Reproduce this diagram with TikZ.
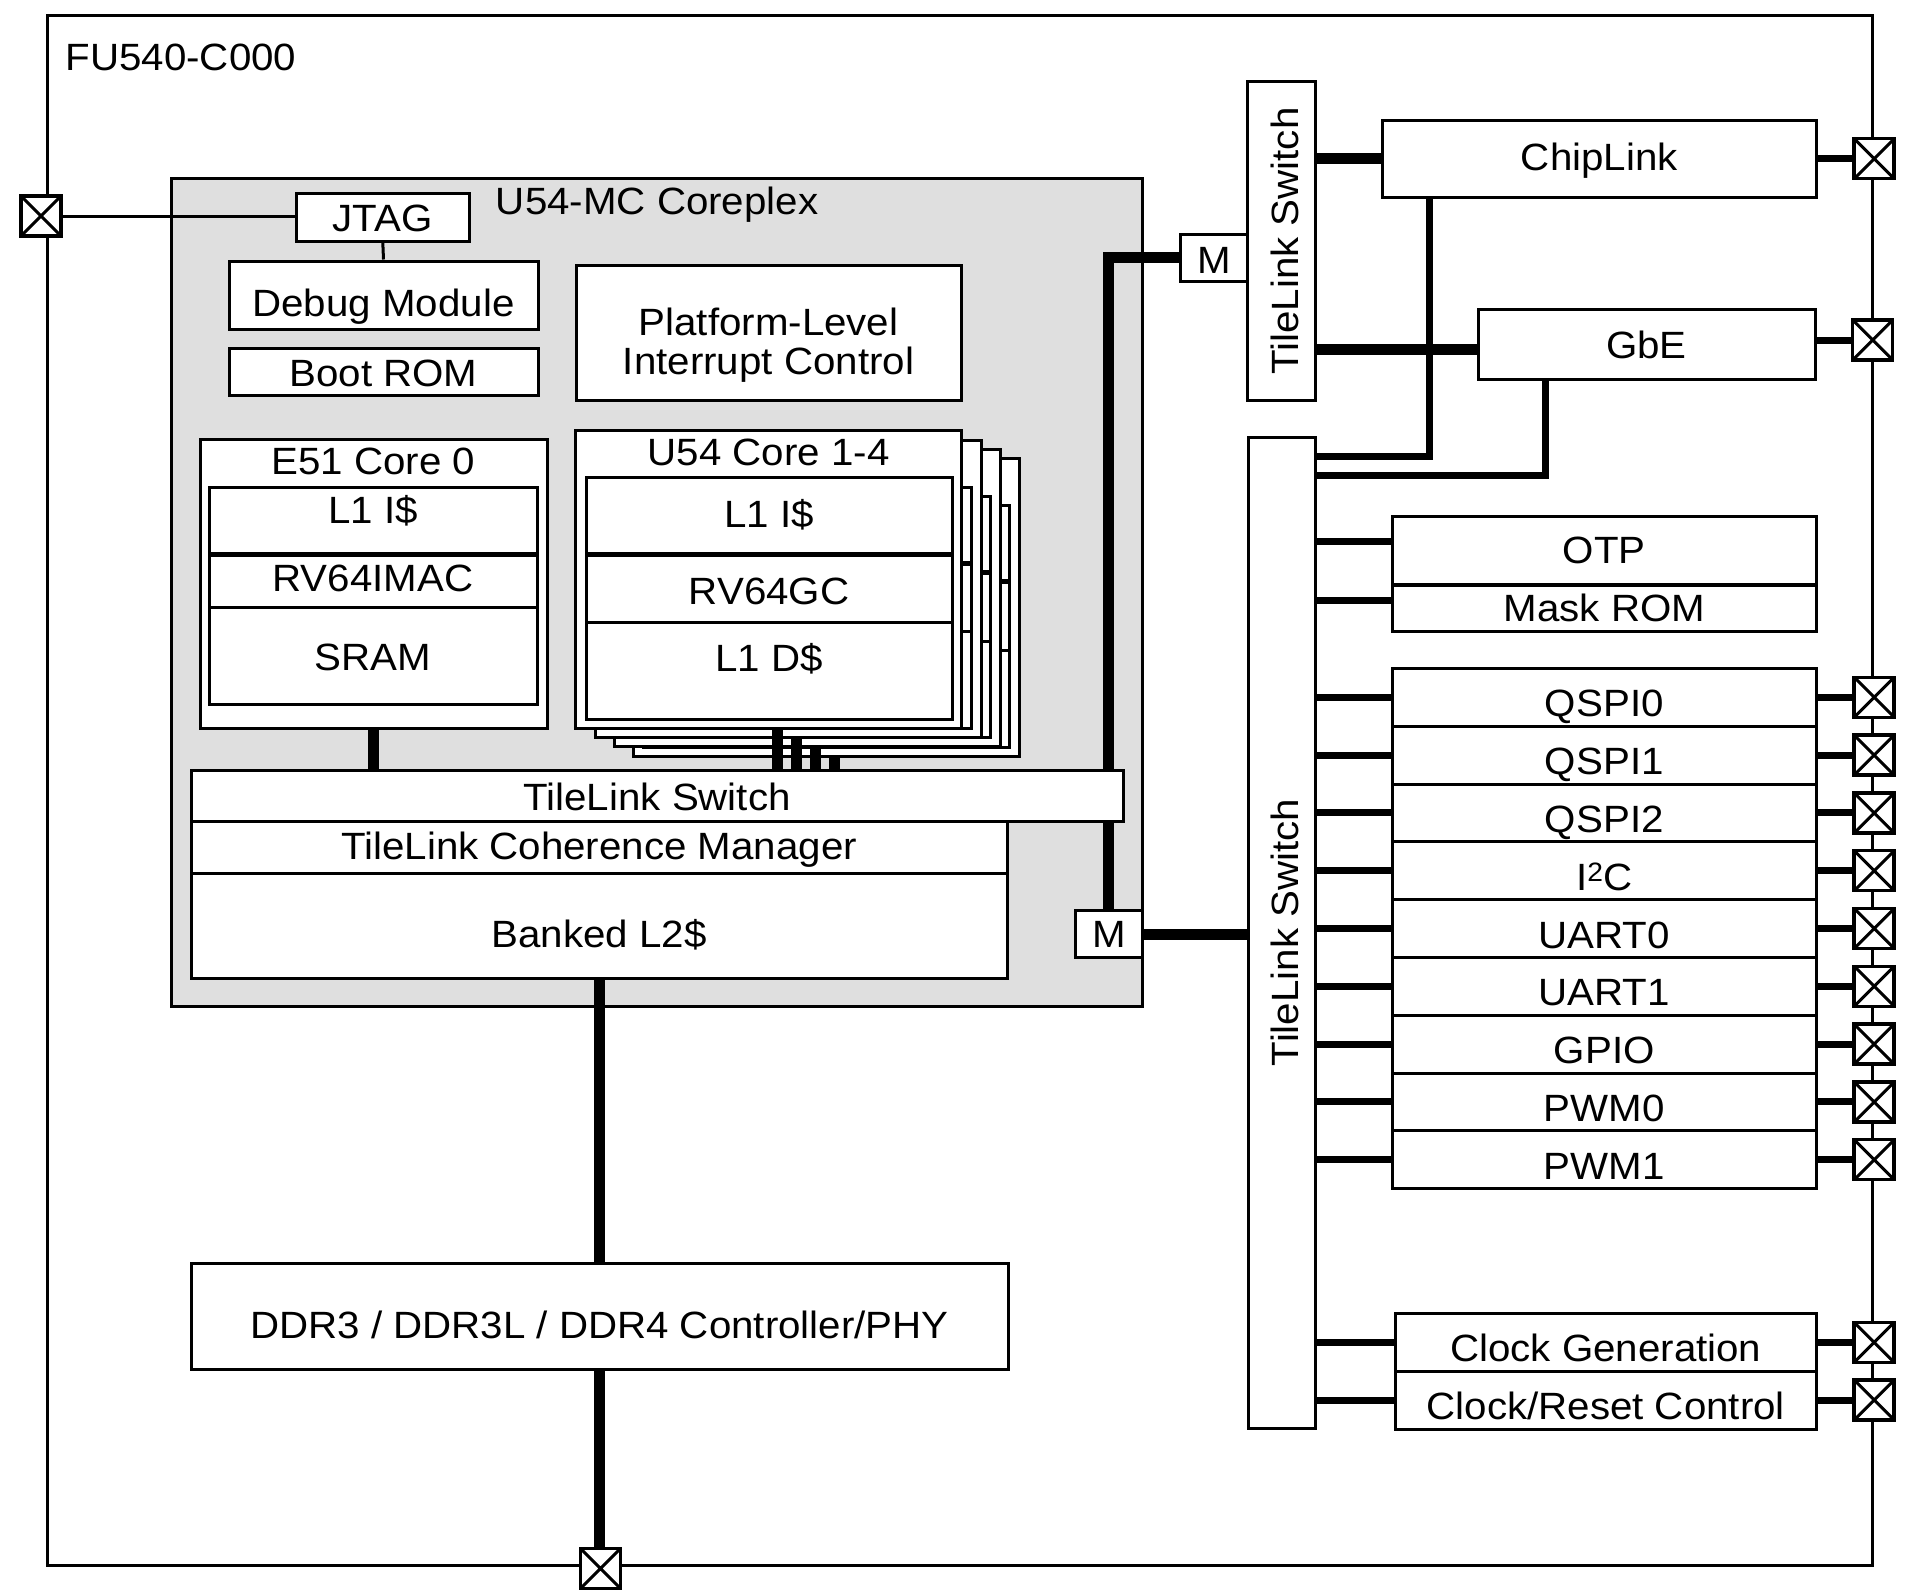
\documentclass[tikz,border=0pt]{standalone}
\usepackage{fontspec}
\setmainfont{Liberation Sans}[FakeStretch=1.06]

\tikzset{
  blk/.style={draw, fill=white, line width=3pt, inner sep=0pt, font=\fontsize{38}{38.5}\selectfont},
  tb/.style={text height=#1, text depth=0pt},
  tt/.style={text height=0pt, text depth=#1},
  pad/.style={draw, fill=white, line width=3.5pt, minimum size=40pt, inner sep=0pt,
    path picture={\draw[line width=3pt] (path picture bounding box.south west) -- (path picture bounding box.north east)
      (path picture bounding box.north west) -- (path picture bounding box.south east);}},
  bus/.style={line width=11pt},
  link/.style={line width=7pt},
  wire/.style={line width=3pt}
}

\begin{document}
\begin{tikzpicture}[x=1pt, y=-1pt]
    \useasboundingbox (0,0) rectangle (1916,1592);

    % chip outline
    \node[draw, line width=3pt, inner sep=0pt, minimum width=1824.9pt, minimum height=1549.7pt] (chip) at (960.25,790.15) {};
    \node[anchor=base west, inner sep=0pt, font=\fontsize{38}{38.5}\selectfont] (chipname) at (65.5,71) {FU540-C000};

    % coreplex
    \node[blk, fill=gray!25, tt=756.6pt, minimum width=971.2pt, minimum height=827.4pt] (cplx) at (657.1,592.3) {U54-MC Coreplex};
    \node[blk, tb=28pt, minimum width=173.6pt, minimum height=48pt] (jtag) at (382.8,217) {JTAG};
    \node[blk, tb=42pt, minimum width=309pt, minimum height=68pt] (debug) at (383.5,295) {Debug Module};
    \node[blk, tb=29pt, minimum width=309pt, minimum height=47pt] (bootrom) at (383.5,371.5) {Boot ROM};
    \node[blk, align=center, tb=82.5pt, minimum width=385pt, minimum height=135.5pt] (plic) at (768.5,332.75) {Platform-Level\\Interrupt Control};

    \node[blk, tt=219.6pt, minimum width=347pt, minimum height=289.6pt] (e51) at (373.5,583.8) {E51 Core 0};
    \node[blk, tb=6pt, minimum width=328pt, minimum height=66pt] (e51i) at (373,520) {L1 I\$};
    \node[blk, tb=18.8pt, minimum width=328pt, minimum height=52.2pt] (e51c) at (373,581.6) {RV64IMAC};
    \node[blk, tb=27.7pt, minimum width=328pt, minimum height=96.9pt] (e51s) at (373,656.15) {SRAM};

    % cores 2-4 behind the front one
    \foreach \k in {3,2,1}{
      \begin{scope}[shift={({19.3*\k},{9.3*\k})}]
        \draw[wire, fill=white] (575.7,430.7) rectangle (961.7,728.3);
        \draw[wire, fill=white] (586,477.7) rectangle (952,553);
        \draw[wire, fill=white] (586,555) rectangle (952,622.5);
        \draw[wire, fill=white] (586,622.5) rectangle (952,719.3);
      \end{scope}
    }
    \node[blk, tt=227.6pt, minimum width=386pt, minimum height=297.6pt] (u54) at (768.7,579.5) {U54 Core 1-4};
    \node[blk, tb=23.9pt, minimum width=366pt, minimum height=75.3pt] (u54i) at (769,515.35) {L1 I\$};
    \node[blk, tb=31.1pt, minimum width=366pt, minimum height=67.5pt] (u54c) at (769,588.75) {RV64GC};
    \node[blk, tb=1.6pt, minimum width=366pt, minimum height=96.8pt] (u54d) at (769,670.9) {L1 D\$};

    % master ports
    \node[blk, tb=31pt, minimum width=67.1pt, minimum height=47pt] (mt) at (1214.25,257.5) {M};
    \node[blk, tb=26.6pt, minimum width=67.7pt, minimum height=46.6pt] (mb) at (1108.85,934) {M};
    \draw[bus] (mt.west) -| (mb.north);

    \node[blk, tb=29pt, minimum width=932.3pt, minimum height=51pt] (sws) at (657.15,795.5) {TileLink Switch};
    \node[blk, tb=25.2pt, minimum width=816.3pt, minimum height=52pt] (tlcm) at (599.15,847) {TileLink Coherence Manager};
    \node[blk, tb=44pt, minimum width=816.3pt, minimum height=105pt] (l2) at (599.15,925.5) {Banked L2\$};

    \draw[wire] (jtag.south) -- (debug.north);
    \draw[bus] (e51.south) -- (e51.south |- sws.north);
    \foreach \k in {0,...,3}{
      \coordinate (core\k) at ([shift={({8.3+19.3*\k},{9.3*\k})}]u54.south);
      \draw[bus] (core\k) -- (core\k |- sws.north);
    }

    % memory
    \node[blk, tb=44pt, minimum width=817pt, minimum height=106pt] (ddr) at (599.5,1316) {DDR3 / DDR3L / DDR4 Controller/PHY};
    \draw[bus] (l2.south) -- (l2.south |- ddr.north);
    \node[pad] (ddrpad) at (600.5,1568.5) {};
    \draw[bus] (ddr.south) -- (ddr.south |- ddrpad.north);

    \node[pad] (jtagpad) at (41,216) {};
    \draw[wire] (jtagpad.east) -- (jtagpad.east -| jtag.west);

    % peripheral side
    \node[blk, rotate=90, tb=34pt, minimum width=318.9pt, minimum height=67.7pt] (sw1) at (1281.65,241.05) {TileLink Switch};
    \node[blk, rotate=90, tb=34pt, minimum width=991pt, minimum height=66.7pt] (sw2) at (1281.65,932.5) {TileLink Switch};
    \draw[bus] (mb.east) -- (mb.east -| sw2.north);

    \node[blk, tb=22.6pt, minimum width=434.6pt, minimum height=76.6pt] (cl) at (1599.3,158.7) {ChipLink};
    \node[blk, tb=28.7pt, minimum width=337pt, minimum height=69.3pt] (gbe) at (1646.5,344.35) {GbE};
    \draw[bus] (cl.west -| sw1.south) -- (cl.west);
    \coordinate (gbein) at ([yshift=-5.2pt]gbe.west);
    \draw[bus] (gbein -| sw1.south) -- (gbein);
    \coordinate (cldown) at ([xshift=48.7pt]cl.south west);
    \coordinate (clin) at ([yshift=-21pt]sw2.south east);
    \draw[link] (cldown) |- (clin);
    \coordinate (gbedown) at ([xshift=69pt]gbe.south west);
    \coordinate (gbeinb) at ([yshift=-39.5pt]sw2.south east);
    \draw[link] (gbedown) |- (gbeinb);
    \node[pad] (clpad) at (cl.east -| chip.east) {};
    \draw[link] (cl.east) -- (clpad.west);
    \node[pad] (gbepad) at (1872.7,340) {};
    \draw[link] (gbepad.west -| gbe.east) -- (gbepad.west);

    \node[blk, tb=27.6pt, minimum width=424.6pt, minimum height=68pt] (otp) at (1604.3,550) {OTP};
    \node[blk, tb=26.1pt, minimum width=424.6pt, minimum height=45.3pt] (mrom) at (1604.3,608.35) {Mask ROM};
    \coordinate (otpin) at ([yshift=9pt]otp.west);
    \coordinate (mromin) at ([yshift=8.3pt]mrom.west);
    \draw[link] (otpin -| sw2.south) -- (otpin);
    \draw[link] (mromin -| sw2.south) -- (mromin);

    \foreach \name [count=\i from 0] in {QSPI0,QSPI1,QSPI2,I\textsuperscript{2}C,UART0,UART1,GPIO,PWM0,PWM1}{
      \node[blk, tb=39pt, minimum width=424.6pt, minimum height=57.8pt] (p\i) at (1604.3,{697.3+57.8*\i}) {\name};
      \draw[link] (p\i.west -| sw2.south) -- (p\i.west);
      \node[pad] (pp\i) at (p\i.east -| chip.east) {};
      \draw[link] (p\i.east) -- (pp\i.west);
    }

    \node[blk, tb=39pt, minimum width=421.6pt, minimum height=57.3pt] (ckgen) at (1605.8,1342.35) {Clock Generation};
    \node[blk, tb=38pt, minimum width=421.6pt, minimum height=58pt] (ckrst) at (1605.8,1400) {Clock/Reset Control};
    \foreach \n in {ckgen,ckrst}{
      \draw[link] (\n.west -| sw2.south) -- (\n.west);
      \node[pad] (\n-pad) at (\n.east -| chip.east) {};
      \draw[link] (\n.east) -- (\n-pad.west);
    }
\end{tikzpicture}
\end{document}
